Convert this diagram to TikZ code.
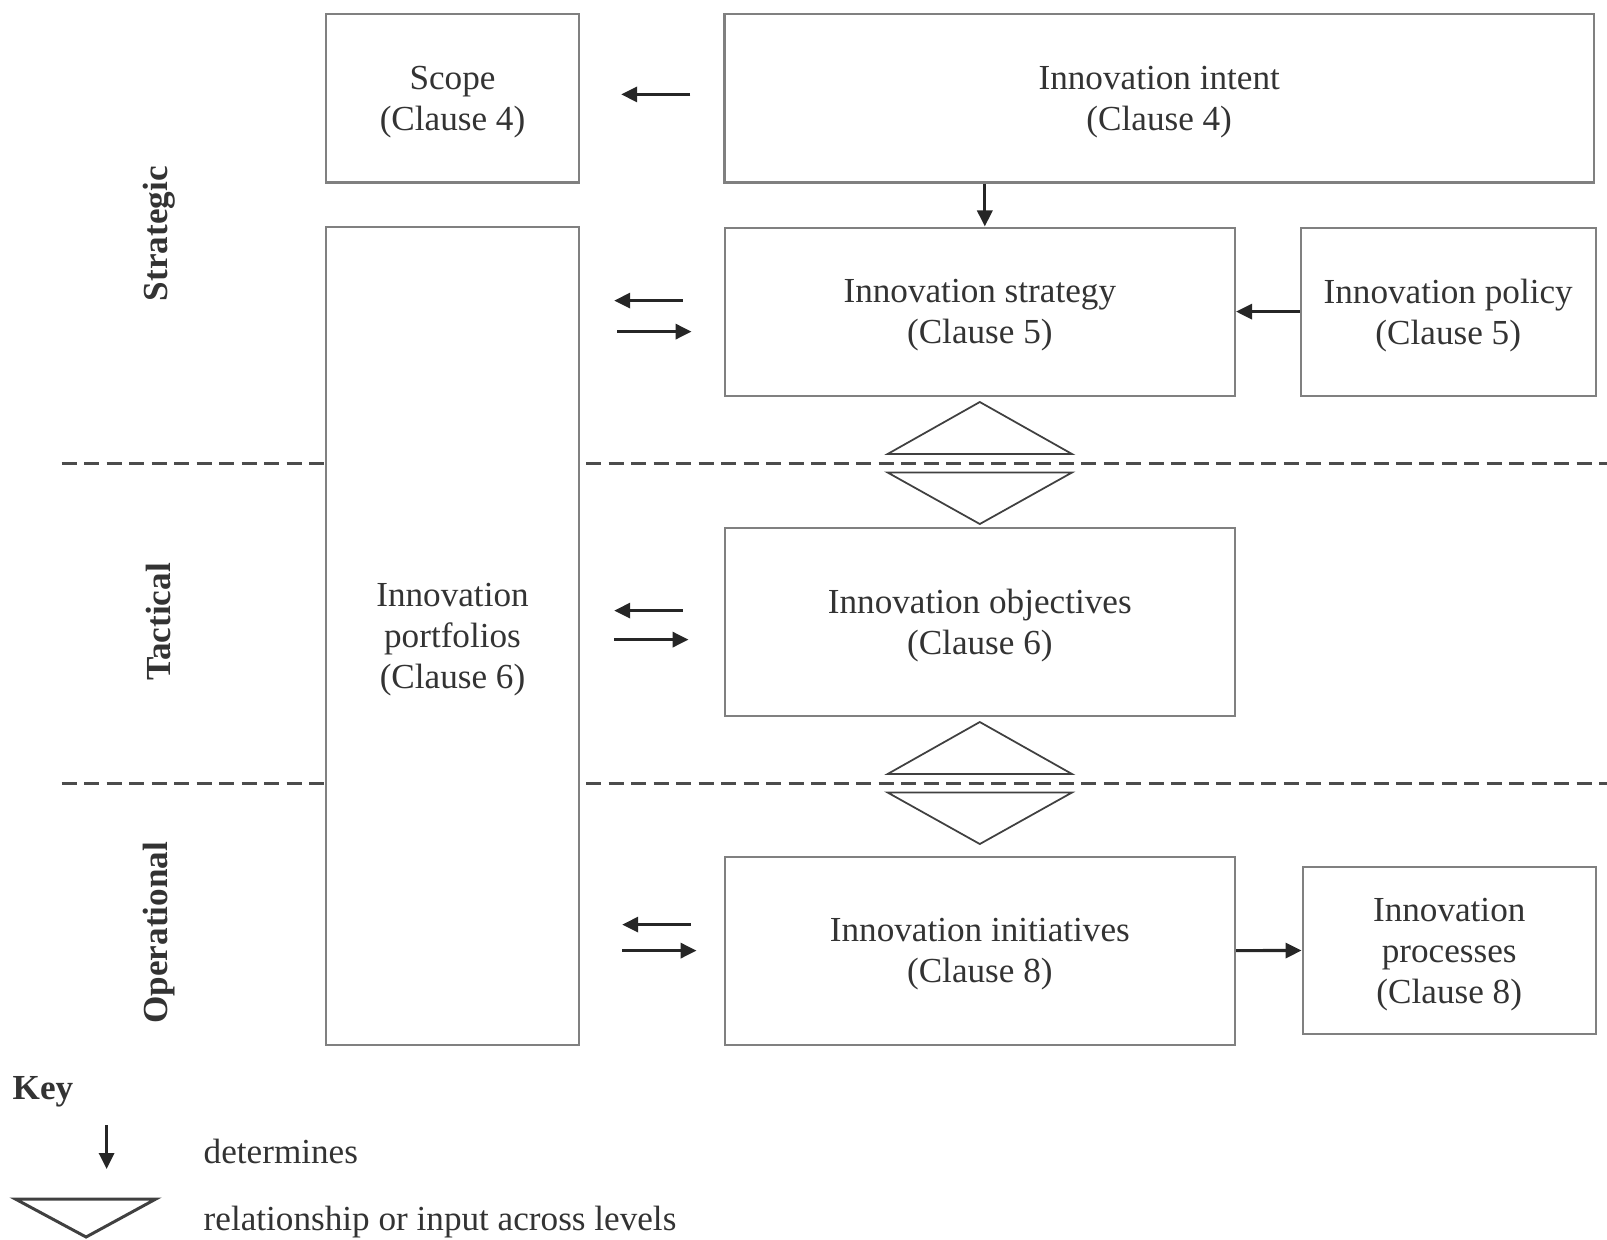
\documentclass[tikz,border=0pt]{standalone}
\usepackage{fontspec}
\setmainfont{Liberation Serif}
\usetikzlibrary{arrows.meta, positioning, calc}

\begin{document}
\begin{tikzpicture}[
    x=0.01cm, y=-0.01cm,
    every node/.style={font=\fontsize{10}{11.7}\selectfont, text=black!80},
    box/.style={rectangle, draw=black!50, line width=0.6pt, align=center, inner sep=0pt,
        text depth=-1pt},
    arr/.style={-{Triangle[length=1.6mm,width=1.5mm]}, line width=0.9pt, draw=black!85},
    sepline/.style={dash pattern=on 1.5mm off 0.75mm, line width=0.85pt, draw=black!70},
    tri/.style={draw=black!75, line width=0.5pt},
    lvl/.style={rotate=90, font=\fontsize{10}{12}\selectfont\bfseries},
    keytext/.style={anchor=west, inner sep=0pt}
]
\useasboundingbox (0,0) rectangle (1607,1239);

% boxes
\node[box, minimum width=2.53cm, minimum height=1.68cm] (scope) at (452.5,98.4) {Scope\\(Clause 4)};
\node[box, minimum width=8.69cm, minimum height=1.68cm] (intent) at (1159.2,98.4) {Innovation intent\\(Clause 4)};
\node[box, minimum width=2.53cm, minimum height=8.17cm] (portfolios) at (452.5,636) {Innovation\\portfolios\\(Clause 6)};
\node[box, minimum width=5.10cm, minimum height=1.68cm] (strategy) at (979.8,311.6) {Innovation strategy\\(Clause 5)};
\node[box, minimum width=2.95cm, minimum height=1.68cm] (policy) at (1448.2,311.6) {Innovation policy\\(Clause 5)};
\node[box, minimum width=5.10cm, minimum height=1.88cm] (objectives) at (979.8,621.6) {Innovation objectives\\(Clause 6)};
\node[box, minimum width=5.10cm, minimum height=1.88cm] (initiatives) at (979.8,950.6) {Innovation initiatives\\(Clause 8)};
\node[box, minimum width=2.93cm, minimum height=1.67cm] (processes) at (1449.2,950.5) {Innovation\\processes\\(Clause 8)};

% levels
\node[lvl] (strategic) at (158.9,233.7) {Strategic};
\node[lvl] (tactical) at (158.9,622) {Tactical};
\node[lvl] (operational) at (158.9,932.7) {Operational};
\foreach \y in {463,783} {
    \draw[sepline] (61.5,\y) -- (326,\y) (586,\y) -- (1607,\y);
    \draw[tri] (887.6,\y-9) -- (1072,\y-9) -- (979.8,\y-61) -- cycle;
    \draw[tri] (887.6,\y+9.5) -- (1072,\y+9.5) -- (979.8,\y+61) -- cycle;
}

% determines
\draw[arr] ([xshift=-3.3mm, yshift=0.4mm]intent.west) -- ([xshift=4.1mm, yshift=0.4mm]scope.east);
\draw[arr] ([xshift=0.5mm]strategy.north |- intent.south) -- ([xshift=0.5mm]strategy.north);
\draw[arr] (policy.west) -- (strategy.east);
\draw[arr] (initiatives.east) -- (processes.west);

% portfolios <-> levels
\draw[arr] ($(strategy.west)+(-4.1mm,1.1mm)$) -- ($(portfolios.east |- strategy.west)+(3.4mm,1.1mm)$);
\draw[arr] ($(portfolios.east |- strategy.west)+(3.7mm,-2.0mm)$) -- ($(strategy.west)+(-3.2mm,-2.0mm)$);
\draw[arr] ($(objectives.west)+(-4.1mm,1.1mm)$) -- ($(portfolios.east |- objectives.west)+(3.4mm,1.1mm)$);
\draw[arr] ($(portfolios.east |- objectives.west)+(3.4mm,-1.8mm)$) -- ($(objectives.west)+(-3.5mm,-1.8mm)$);
\draw[arr] ($(initiatives.west)+(-3.3mm,2.6mm)$) -- ($(portfolios.east |- initiatives.west)+(4.2mm,2.6mm)$);
\draw[arr] ($(portfolios.east |- initiatives.west)+(4.2mm,0)$) -- ($(initiatives.west)+(-2.7mm,0)$);

% key
\node[keytext, font=\fontsize{10}{12}\selectfont\bfseries] (key) at (12,1092) {Key};
\coordinate (keytop) at (106.6,1125);
\coordinate (keybot) at (106.6,1169);
\draw[arr] (keytop) -- (keybot);
\node[keytext] (determines) at (203,1151) {determines};
\draw[tri, line width=0.85pt] (15.4,1199) -- (155.8,1199) -- (86.1,1237) -- cycle;
\node[keytext] (across) at (203,1222) {relationship or input across levels};
\end{tikzpicture}
\end{document}
